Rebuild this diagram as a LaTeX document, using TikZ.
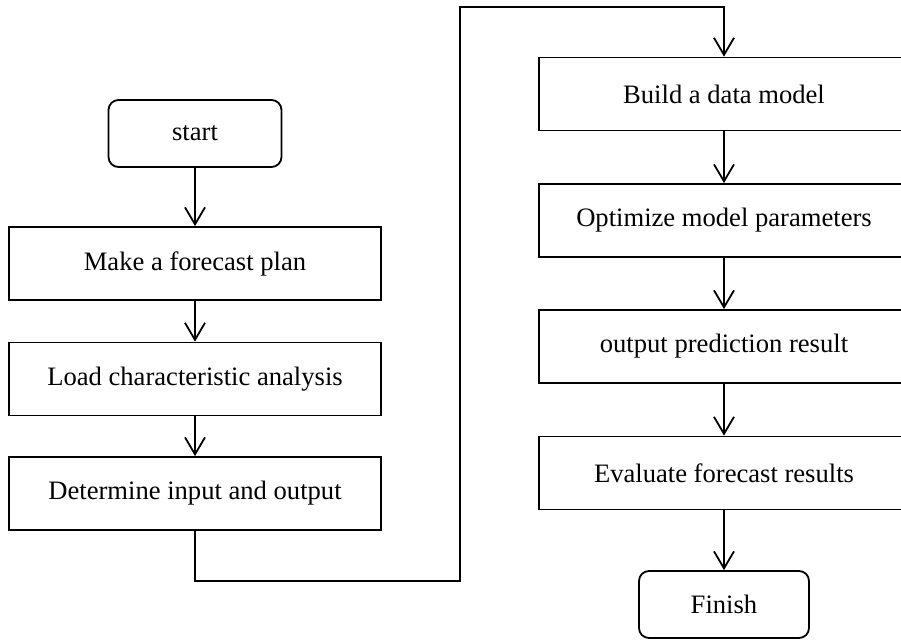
\documentclass[tikz,border=0pt]{standalone}
\usepackage{fontspec}
\setmainfont{Liberation Serif}
\usetikzlibrary{arrows.meta}
\begin{document}
\begin{tikzpicture}[x=0.5pt, y=-0.5pt]
			% Styles des cases et des flèches
			\tikzset{ etape/.style={draw, line width=0.9pt, minimum height=36.5pt, inner sep=2pt, font=\fontsize{13.3}{16}\selectfont},
				borne/.style={etape, rounded corners=5pt, minimum height=33.5pt},
				fleche/.style={line width=0.9pt, -{Straight Barb[length=8.5pt, width=10pt]}} }
			\useasboundingbox (0,0) rectangle (901,639);
			% Colonne de gauche
			\node[borne, minimum width=86.5pt] (start) at (195,133.5) {start};
			\node[etape, minimum width=186pt] (plan) at (195,263.5) {Make a forecast plan};
			\node[etape, minimum width=186pt] (load) at (195,379) {Load characteristic analysis};
			\node[etape, minimum width=186pt] (io) at (195,493.5) {Determine input and output};
			% Colonne de droite
			\node[etape, minimum width=185pt] (build) at (724,94) {Build a data model};
			\node[etape, minimum width=185pt] (optim) at (724,220.5) {Optimize model parameters};
			\node[etape, minimum width=185pt] (result) at (724,346.5) {output prediction result};
			\node[etape, minimum width=185pt] (eval) at (724,473) {Evaluate forecast results};
			\node[borne, minimum width=85pt] (finish) at (724,604.5) {Finish};
			% Liaisons
			\coordinate (bas) at (460,581);
			\coordinate (haut) at (460,7);
			\draw[fleche] (start) -- (plan);
			\draw[fleche] (plan) -- (load);
			\draw[fleche] (load) -- (io);
			\draw[fleche] (io.south) |- (bas) -- (haut) -| (build.north);
			\draw[fleche] (build) -- (optim);
			\draw[fleche] (optim) -- (result);
			\draw[fleche] (result) -- (eval);
			\draw[fleche] (eval) -- (finish);
		\end{tikzpicture}
\end{document}
